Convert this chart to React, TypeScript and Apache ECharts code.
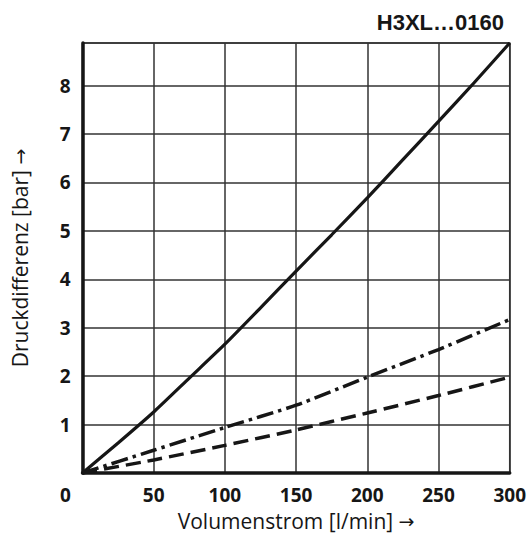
import React, { useEffect, useRef } from "react";
import * as echarts from "echarts";

// Volumenstrom [l/min]
const flowFine = [0, 25, 50, 75, 100, 125, 150, 175, 200, 225, 250, 275, 300];
const flowCoarse = [0, 50, 100, 150, 200, 250, 300];
// Druckdifferenz [bar]
const solidCurve = [0, 0.62, 1.26, 1.96, 2.66, 3.41, 4.17, 4.92, 5.68, 6.47, 7.26, 8.06, 8.88];
const dashDotCurve = [0, 0.47, 0.94, 1.4, 1.98, 2.55, 3.17];
const dashedCurve = [0, 0.27, 0.57, 0.89, 1.24, 1.6, 1.98];

const xTicks = [0, 50, 100, 150, 200, 250, 300];
const yTicks = [1, 2, 3, 4, 5, 6, 7, 8];

const titleText = "H3XL…0160";
const xNameText = "Volumenstrom [l/min]";
const yNameText = "Druckdifferenz [bar]";
const arrow = "→";

const FONT = "'Open Sans', 'Liberation Sans', sans-serif";
const INK = "#161616";
const GRID = "#333333";

const nameRich = {
  t: { fontFamily: FONT, fontSize: 21, color: INK },
  a: { fontFamily: "'DejaVu Sans', sans-serif", fontSize: 19, color: INK },
};

export default function App() {
  const ref = useRef<HTMLDivElement>(null);
  useEffect(() => {
    if (!ref.current) return;
    const chart = echarts.init(ref.current, null, { renderer: "svg" });
    const pair = (xs: number[], ys: number[]) => xs.map((x, i) => [x, ys[i]]);
    chart.setOption({
      animation: false,
      backgroundColor: "#ffffff",
      title: {
        text: titleText,
        right: 20,
        top: 6,
        textStyle: {
          fontFamily: "'Liberation Sans', Arial, sans-serif",
          fontWeight: "bold",
          fontSize: 22,
          color: INK,
        },
      },
      grid: {
        left: 82.5,
        right: 19,
        top: 43,
        bottom: 70,
        show: true,
        borderColor: GRID,
        borderWidth: 1.5,
      },
      xAxis: {
        type: "value",
        min: 0,
        max: 300,
        interval: 50,
        name: `{t|${xNameText}} {a|${arrow}}`,
        nameLocation: "middle",
        nameGap: 37,
        nameTextStyle: { fontFamily: FONT, fontSize: 21, color: INK, rich: nameRich },
        axisLine: { show: true, lineStyle: { color: INK, width: 3.5 } },
        axisTick: { show: false },
        splitLine: { show: true, lineStyle: { color: GRID, width: 1.5 } },
        axisLabel: {
          margin: 12,
          fontFamily: FONT,
          fontWeight: "bold",
          fontSize: 19,
          color: INK,
          formatter: (v: number) =>
            xTicks.includes(v) ? (v === 0 ? "{z|0}" : String(v)) : "",
          rich: {
            z: {
              fontFamily: FONT,
              fontWeight: "bold",
              fontSize: 19,
              color: INK,
              padding: [0, 34, 0, 0],
            },
          },
        },
      },
      yAxis: {
        type: "value",
        min: 0,
        max: 8.88,
        interval: 1,
        name: `{t|${yNameText}} {a|${arrow}}`,
        nameLocation: "middle",
        nameGap: 52,
        nameTextStyle: { fontFamily: FONT, fontSize: 21, color: INK, rich: nameRich },
        axisLine: { show: true, lineStyle: { color: INK, width: 3.5 } },
        axisTick: { show: false },
        splitLine: { show: true, lineStyle: { color: GRID, width: 1.5 } },
        axisLabel: {
          margin: 12,
          fontFamily: FONT,
          fontWeight: "bold",
          fontSize: 19,
          color: INK,
          showMinLabel: false,
          formatter: (v: number) => (yTicks.includes(v) ? String(v) : ""),
        },
      },
      series: [
        {
          type: "line",
          data: pair(flowFine, solidCurve),
          symbol: "none",
          smooth: 0.2,
          lineStyle: { color: INK, width: 3.2, type: "solid" },
        },
        {
          type: "line",
          data: pair(flowCoarse, dashDotCurve),
          symbol: "none",
          smooth: 0.2,
          lineStyle: { color: INK, width: 3.5, type: [17, 5, 3.5, 5], cap: "butt" },
        },
        {
          type: "line",
          data: pair(flowCoarse, dashedCurve),
          symbol: "none",
          smooth: 0.2,
          lineStyle: { color: INK, width: 3.5, type: [15, 7], cap: "butt" },
        },
      ],
    });
    return () => chart.dispose();
  }, []);
  return (
    <div
      ref={ref}
      style={{ position: "fixed", left: 0, top: 0, width: 529, height: 543 }}
    />
  );
}
